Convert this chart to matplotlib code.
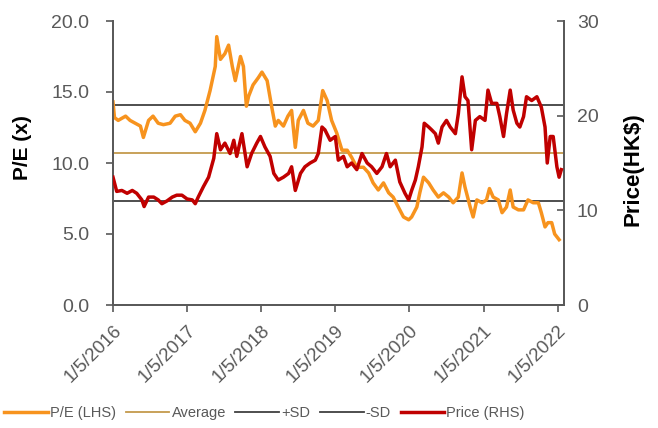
import numpy as np
import pandas as pd
import matplotlib
matplotlib.use("Agg")
import matplotlib.pyplot as plt
from matplotlib.lines import Line2D

plt.rcParams['font.family'] = ['Liberation Sans', 'DejaVu Sans']

# ---- data (time in years since 1/5/2016) ----
pe_t = [0.00, 0.02, 0.07, 0.17, 0.23, 0.30, 0.37, 0.41, 0.48, 0.54,
        0.61, 0.68, 0.77, 0.84, 0.91, 0.97, 1.04, 1.11, 1.18, 1.24,
        1.31, 1.38, 1.40, 1.45, 1.51, 1.56, 1.61, 1.65, 1.72, 1.76,
        1.80, 1.83, 1.89, 1.96, 2.01, 2.08, 2.14, 2.19, 2.23, 2.30,
        2.36, 2.41, 2.46, 2.50, 2.57, 2.63, 2.70, 2.77, 2.83, 2.89,
        2.95, 3.02, 3.09, 3.16, 3.22, 3.29, 3.38, 3.45, 3.51, 3.58,
        3.65, 3.72, 3.78, 3.85, 3.92, 3.99, 4.03, 4.10, 4.14, 4.19,
        4.26, 4.32, 4.39, 4.46, 4.53, 4.59, 4.66, 4.71, 4.75, 4.82,
        4.86, 4.91, 4.98, 5.04, 5.08, 5.13, 5.20, 5.25, 5.31, 5.36,
        5.40, 5.47, 5.54, 5.60, 5.67, 5.74, 5.78, 5.83, 5.87, 5.92,
        5.96, 6.02]
pe_values = [14.3, 13.2, 13.0, 13.3, 13.0, 12.8, 12.6, 11.8, 13.0, 13.3,
             12.8, 12.7, 12.8, 13.3, 13.4, 13.0, 12.8, 12.2, 12.8, 13.7,
             15.1, 16.8, 18.9, 17.3, 17.7, 18.3, 16.8, 15.8, 17.5, 16.8,
             14.0, 14.7, 15.5, 16.0, 16.4, 15.8, 14.0, 12.6, 13.0, 12.6,
             13.3, 13.7, 11.1, 13.0, 13.7, 12.8, 12.6, 13.0, 15.1, 14.4,
             13.0, 12.1, 10.9, 10.9, 10.4, 9.7, 9.7, 9.3, 8.6, 8.1,
             8.6, 7.9, 7.6, 6.9, 6.2, 6.0, 6.2, 6.9, 7.9, 9.0,
             8.6, 8.1, 7.6, 7.9, 7.6, 7.2, 7.6, 9.3, 8.3, 6.9,
             6.2, 7.4, 7.2, 7.4, 8.2, 7.6, 7.4, 6.5, 6.9, 8.1,
             6.9, 6.7, 6.7, 7.4, 7.2, 7.2, 6.5, 5.5, 5.8, 5.8,
             5.0, 4.6]

price_t = [0.00, 0.05, 0.12, 0.19, 0.26, 0.32, 0.39, 0.42, 0.48, 0.55,
           0.61, 0.66, 0.73, 0.80, 0.86, 0.93, 1.00, 1.07, 1.11, 1.15,
           1.22, 1.29, 1.36, 1.40, 1.45, 1.51, 1.58, 1.63, 1.67, 1.74,
           1.81, 1.87, 1.94, 1.99, 2.05, 2.12, 2.17, 2.23, 2.30, 2.37,
           2.41, 2.46, 2.53, 2.59, 2.66, 2.73, 2.77, 2.82, 2.86, 2.93,
           3.00, 3.04, 3.11, 3.16, 3.22, 3.29, 3.36, 3.43, 3.49, 3.56,
           3.63, 3.69, 3.74, 3.81, 3.87, 3.94, 3.99, 4.03, 4.08, 4.12,
           4.17, 4.20, 4.26, 4.30, 4.35, 4.39, 4.44, 4.50, 4.55, 4.62,
           4.66, 4.71, 4.75, 4.79, 4.84, 4.89, 4.95, 5.02, 5.06, 5.11,
           5.18, 5.22, 5.27, 5.31, 5.36, 5.40, 5.45, 5.49, 5.54, 5.58,
           5.65, 5.72, 5.78, 5.83, 5.86, 5.90, 5.94, 5.99, 6.02, 6.05]
price_values = [13.5, 12.0, 12.1, 11.8, 12.1, 11.8, 11.1, 10.4, 11.4, 11.4,
                11.1, 10.7, 11.0, 11.4, 11.6, 11.6, 11.2, 11.1, 10.7, 11.4,
                12.5, 13.5, 15.5, 18.1, 16.4, 17.1, 16.0, 17.4, 15.7, 18.1,
                14.6, 16.0, 17.1, 17.8, 16.7, 15.7, 13.9, 13.2, 13.5, 13.9,
                14.6, 12.1, 13.9, 14.6, 15.0, 15.3, 16.0, 18.8, 18.5, 17.4,
                17.8, 15.3, 15.7, 14.6, 15.0, 14.3, 16.0, 15.0, 14.6, 13.9,
                14.6, 16.0, 14.6, 15.3, 13.0, 11.8, 11.1, 12.1, 13.2, 14.6,
                16.7, 19.2, 18.8, 18.5, 18.1, 17.1, 18.8, 19.5, 18.8, 18.1,
                20.2, 24.1, 22.0, 21.6, 16.4, 19.5, 19.9, 19.5, 22.7, 21.3,
                21.3, 19.9, 17.8, 20.2, 22.7, 20.6, 19.2, 18.8, 19.9, 22.0,
                21.6, 22.0, 20.9, 18.8, 15.0, 17.8, 17.8, 14.6, 13.5, 14.3]

pe_average = 10.73
pe_plus_sd = 14.06
pe_minus_sd = 7.30

tick_labels = ["1/5/2016", "1/5/2017", "1/5/2018", "1/5/2019",
               "1/5/2020", "1/5/2021", "1/5/2022"]
legend_labels = ["P/E (LHS)", "Average", "+SD", "-SD", "Price (RHS)"]

# ---- styling ----
C_PE = "#F7931E"
C_AVG = "#C49A4C"
C_SD = "#404040"
C_PRICE = "#C00000"
C_TXT = "#595959"

start = pd.Timestamp("2016-01-05")


def to_dates(t):
    return start + pd.to_timedelta(np.asarray(t) * 365.25, unit="D")


fig = plt.figure(figsize=(6.58, 4.28), dpi=100)
ax = fig.add_axes([113 / 658, 1 - 305 / 428, (564.3 - 113) / 658, (305 - 21) / 428])
ax2 = ax.twinx()

ax.axhline(pe_average, color=C_AVG, lw=1.3, zorder=1)
ax.axhline(pe_plus_sd, color=C_SD, lw=1.3, zorder=1)
ax.axhline(pe_minus_sd, color=C_SD, lw=1.3, zorder=1)
ax.plot(to_dates(pe_t), pe_values, color=C_PE, lw=2.5, zorder=3)
ax2.plot(to_dates(price_t), price_values, color=C_PRICE, lw=2.5, zorder=3)

ax.set_xlim(start, start + pd.Timedelta(days=6.09 * 365.25))
ax.set_ylim(0, 20)
ax2.set_ylim(0, 30)

ax.set_yticks([0, 5, 10, 15, 20])
ax.set_yticklabels([f"{v:.1f}" for v in [0, 5, 10, 15, 20]])
ax2.set_yticks([0, 10, 20, 30])
ax2.set_yticklabels(["0", "10", "20", "30"])

xt = [pd.Timestamp(f"{2016 + i}-01-05") for i in range(7)]
ax.set_xticks(xt)
ax.set_xticklabels(tick_labels, rotation=45, ha="right", va="top",
                   rotation_mode="anchor")

for a in (ax, ax2):
    a.spines["top"].set_visible(False)
    for s in ("left", "right", "bottom"):
        a.spines[s].set_color(C_TXT)
        a.spines[s].set_linewidth(1.3)

ax.tick_params(axis="y", labelsize=14, labelcolor=C_TXT, color=C_TXT,
               length=5, width=1.2, direction="out", pad=12)
ax.tick_params(axis="x", labelsize=13.5, labelcolor=C_TXT, color=C_TXT,
               length=5, width=1.2, direction="out", pad=7)
ax2.tick_params(axis="y", labelsize=14, labelcolor=C_TXT, color=C_TXT,
                length=5, width=1.2, direction="in", pad=9)

ax.set_ylabel("P/E (x)", fontsize=15, fontweight="bold", color="black")
ax.yaxis.set_label_coords(-0.18, 0.555)
ax2.set_ylabel("Price(HK$)", fontsize=16, fontweight="bold", color="black")
ax2.yaxis.set_label_coords(1.128, 0.48)

colors = [C_PE, C_AVG, C_SD, C_SD, C_PRICE]
widths = [2.5, 1.3, 1.3, 1.3, 2.5]
handles = [Line2D([], [], color=c, lw=w) for c, w in zip(colors, widths)]
fig.legend(handles, legend_labels, loc="center", bbox_to_anchor=(0.402, 0.035),
           ncol=5, frameon=False, fontsize=10.5, handlelength=3.0,
           handletextpad=0.15, columnspacing=0.65, labelcolor=C_TXT)

fig.savefig("out.png", dpi=100)
